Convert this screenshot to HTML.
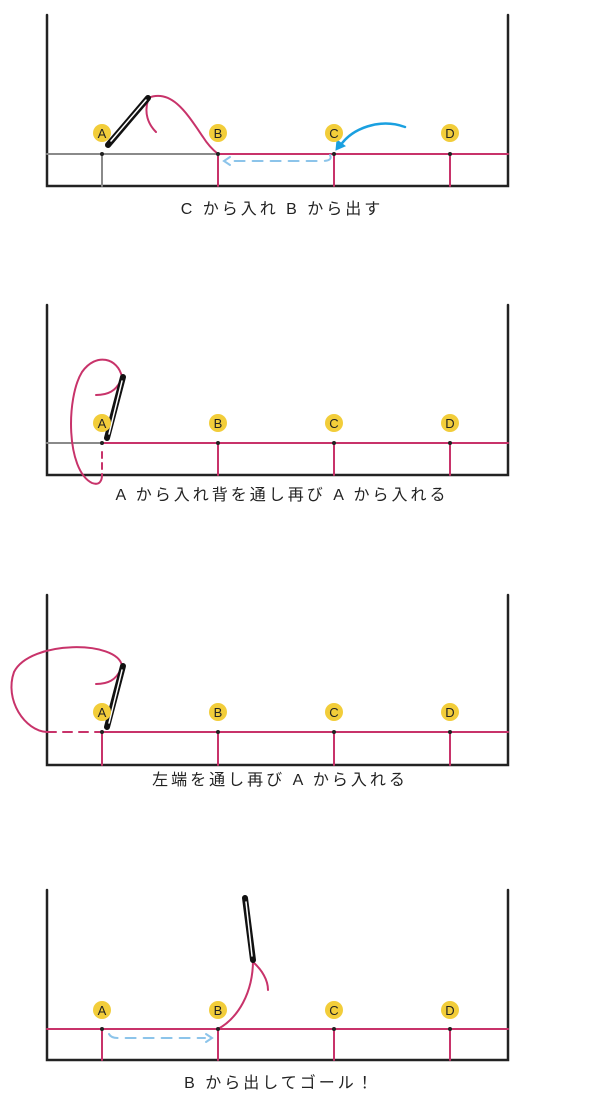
<!DOCTYPE html>
<html><head><meta charset="utf-8"><style>
html,body{margin:0;padding:0;background:#fff;width:600px;height:1100px;overflow:hidden}
svg text{font-family:"Liberation Sans","Noto Sans CJK JP",sans-serif}
</style></head><body>
<svg width="600" height="1100" viewBox="0 0 600 1100" xmlns="http://www.w3.org/2000/svg">
<defs>
<g id="lbl" font-size="13" text-anchor="middle" fill="#222">
<circle cx="102" cy="0" r="9" fill="#f2cd3a"/><text x="102" y="5">A</text>
<circle cx="218" cy="0" r="9" fill="#f2cd3a"/><text x="218" y="5">B</text>
<circle cx="334" cy="0" r="9" fill="#f2cd3a"/><text x="334" y="5">C</text>
<circle cx="450" cy="0" r="9" fill="#f2cd3a"/><text x="450" y="5">D</text>
</g>
</defs>
<g fill="none" stroke-linecap="round">
<!-- Panel 1 -->
<path d="M47,15 V186 H508 V15" stroke="#222" stroke-width="2.5"/>
<path d="M47,154 H218" stroke="#8a8a8a" stroke-width="2"/>
<path d="M102,154 V186" stroke="#8a8a8a" stroke-width="2"/>
<path d="M218,154 H508 M218,154 V186 M334,154 V186 M450,154 V186" stroke="#c8336a" stroke-width="2"/>
<path d="M330,155 Q333,161 322,161 L230,161" stroke="#8cc4ea" stroke-width="2" stroke-dasharray="10,8"/>
<path d="M230,157 L224,161 L230,165" stroke="#8cc4ea" stroke-width="2"/>
<path d="M405,127 C380,118 352,128 340,146" stroke="#1aa0e0" stroke-width="2.5"/>
<path d="M336,150 L337,140 L345,146 Z" fill="#1aa0e0" stroke="#1aa0e0" stroke-width="1"/>
<path d="M148,98 C172,88 188,115 203,137 C208,145 213,150 218,154" stroke="#c8336a" stroke-width="2"/>
<path d="M148,100 C144,113 148,124 156,132" stroke="#c8336a" stroke-width="2"/>
<path d="M108,145 L148,98" stroke="#111" stroke-width="6"/>
<path d="M111,141 L146,100" stroke="#fff" stroke-width="1.5"/>
<g fill="#222"><circle cx="102" cy="154" r="2"/><circle cx="218" cy="154" r="2"/><circle cx="334" cy="154" r="2"/><circle cx="450" cy="154" r="2"/></g>
<!-- Panel 2 -->
<path d="M47,305 V475 H508 V305" stroke="#222" stroke-width="2.5"/>
<path d="M47,443 H102" stroke="#8a8a8a" stroke-width="2"/>
<path d="M102,443 H508 M218,443 V475 M334,443 V475 M450,443 V475" stroke="#c8336a" stroke-width="2"/>
<path d="M102,452 V475" stroke="#c8336a" stroke-width="2" stroke-dasharray="6,5"/>
<path d="M122,377 C118,358 96,352 82,372 C66,398 66,470 92,483 C100,486 102,480 102,475" stroke="#c8336a" stroke-width="2"/>
<path d="M96,395 C108,395 116,391 121,380" stroke="#c8336a" stroke-width="2"/>
<path d="M107,438 L123,377" stroke="#111" stroke-width="6"/>
<path d="M109,434 L122,381" stroke="#fff" stroke-width="1.5"/>
<g fill="#222"><circle cx="102" cy="443" r="2"/><circle cx="218" cy="443" r="2"/><circle cx="334" cy="443" r="2"/><circle cx="450" cy="443" r="2"/></g>
<!-- Panel 3 -->
<path d="M47,595 V765 H508 V595" stroke="#222" stroke-width="2.5"/>
<path d="M47,732 H102" stroke="#c8336a" stroke-width="2" stroke-dasharray="9,7"/>
<path d="M102,732 H508 M102,732 V765 M218,732 V765 M334,732 V765 M450,732 V765" stroke="#c8336a" stroke-width="2"/>
<path d="M122,666 C118,640 30,640 14,672 C4,700 25,731 47,732" stroke="#c8336a" stroke-width="2"/>
<path d="M96,684 C108,684 116,680 121,669" stroke="#c8336a" stroke-width="2"/>
<path d="M107,727 L123,666" stroke="#111" stroke-width="6"/>
<path d="M109,723 L122,670" stroke="#fff" stroke-width="1.5"/>
<g fill="#222"><circle cx="102" cy="732" r="2"/><circle cx="218" cy="732" r="2"/><circle cx="334" cy="732" r="2"/><circle cx="450" cy="732" r="2"/></g>
<!-- Panel 4 -->
<path d="M47,890 V1060 H508 V890" stroke="#222" stroke-width="2.5"/>
<path d="M47,1029 H508 M102,1029 V1060 M218,1029 V1060 M334,1029 V1060 M450,1029 V1060" stroke="#c8336a" stroke-width="2"/>
<path d="M109,1034 Q111,1038 118,1038 L205,1038" stroke="#8cc4ea" stroke-width="2" stroke-dasharray="10,8"/>
<path d="M206,1034 L212,1038 L206,1042" stroke="#8cc4ea" stroke-width="2"/>
<path d="M253,960 C253,993 238,1018 218,1029" stroke="#c8336a" stroke-width="2"/>
<path d="M253,962 C262,970 268,980 268,990" stroke="#c8336a" stroke-width="2"/>
<path d="M245,898 L253,960" stroke="#111" stroke-width="6"/>
<path d="M246,902 L252,956" stroke="#fff" stroke-width="1.5"/>
<g fill="#222"><circle cx="102" cy="1029" r="2"/><circle cx="218" cy="1029" r="2"/><circle cx="334" cy="1029" r="2"/><circle cx="450" cy="1029" r="2"/></g>
</g>
<use href="#lbl" y="133"/>
<use href="#lbl" y="423"/>
<use href="#lbl" y="712"/>
<use href="#lbl" y="1010"/>
<g font-size="16" fill="#222" text-anchor="middle" letter-spacing="3">
<text x="282" y="214">C から入れ B から出す</text>
<text x="282" y="500">A から入れ背を通し再び A から入れる</text>
<text x="280" y="785">左端を通し再び A から入れる</text>
<text x="280" y="1088">B から出してゴール！</text>
</g>
</svg>
</body></html>
